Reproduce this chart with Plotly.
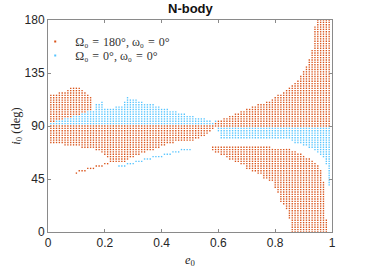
import plotly.graph_objects as go

ORANGE = "#D95319"
BLUE = "#55C4FF"

# ---- orange set: columns (i0 bounds in degrees)
o_left_e = [k / 100 for k in range(1, 59)]
o_left_lo = [76]*5 + [74]*6 + [72]*5 + [70, 70, 68, 66, 64] + [60]*6 + [
    62, 64, 64, 66, 66, 68, 68, 70, 70, 70, 72, 72, 74, 74, 76, 76, 76] + [78]*7 + [
    80, 80, 82, 82, 84, 86, 88]
o_left_hi = [116, 116, 116, 118, 118, 118, 120, 122, 122, 122, 122, 120, 118, 116, 114] + [90]*43

o_up_e = [k / 100 for k in range(59, 100)]
o_up_hi = [92, 94, 94, 96, 96, 98, 98, 100, 100, 102, 102, 104, 104, 106, 106, 108, 108, 108, 110, 110,
           112, 114, 116, 116, 118, 120, 122, 124, 126, 128, 132, 136, 140, 146, 154, 174,
           180, 180, 180, 180, 180]
o_up_lo = [90]*41

o_low_e = [k / 100 for k in range(58, 99)]
o_low_lo = [70, 68, 68, 66, 66, 64, 62, 62, 60, 60, 58, 58, 54, 54, 52, 52, 50, 50, 46, 46, 44, 44,
            38, 34, 26, 24, 20, 12] + [0]*13
o_low_hi = [72]*21 + [70]*7 + [68, 68, 66, 66, 64, 62, 62, 60, 58, 56, 52, 42, 10]

o_tail_e = [k / 100 for k in range(10, 22)]
o_tail_i = [50, 52, 52, 52, 54, 54, 54, 56, 56, 56, 58, 58]

# ---- blue set
b_up_e = [k / 100 for k in range(1, 60)]
b_up_hi = [92, 92, 94, 94, 94, 96, 96, 96, 98, 98, 98, 100, 100, 102, 102, 102, 108, 108, 110, 104,
           104, 104, 104, 106, 106, 106, 110, 114, 112, 112, 112, 110, 110, 108, 108, 108, 108, 106, 106, 104,
           104, 104, 102, 102, 102, 100, 100, 100, 98, 98, 98, 96, 96, 96, 96, 94, 94, 92, 94]
b_up_lo = [92]*58 + [94]

b_low_e = [k / 100 for k in range(60, 100)]
b_low_hi = [88]*40
b_low_lo = [86] + [80]*25 + [78, 76, 76, 76, 74, 74, 72, 72, 70, 68, 66, 64, 58, 40]

b_tail_e = [k / 100 for k in range(25, 51)]
b_tail_i = [56, 56, 56, 58, 58, 58, 60, 60, 60, 62, 62, 62, 64, 64, 64, 64, 66, 66, 66, 68, 68, 68, 70, 70, 70, 70]

x_ticks = [0, 0.2, 0.4, 0.6, 0.8, 1]
x_tick_text = ["0", "0.2", "0.4", "0.6", "0.8", "1"]
y_ticks = [0, 45, 90, 135, 180]


def expand(es, los, his):
    pts = []
    for e, lo, hi in zip(es, los, his):
        pts += [(e, i) for i in range(lo, hi + 1, 2)]
    return pts


blue = expand(b_up_e, b_up_lo, b_up_hi) + expand(b_low_e, b_low_lo, b_low_hi) + list(zip(b_tail_e, b_tail_i))
taken = set(blue)
orange = expand(o_left_e, o_left_lo, o_left_hi) + expand(o_up_e, o_up_lo, o_up_hi) + \
    expand(o_low_e, o_low_lo, o_low_hi) + list(zip(o_tail_e, o_tail_i))
orange = [p for p in orange if p not in taken]

fig = go.Figure()
fig.add_trace(go.Scatter(
    x=[p[0] for p in orange], y=[p[1] for p in orange], mode="markers", cliponaxis=False,
    name="Ω₀\u2004=\u2004180°, ω₀\u2004=\u20040°", legend="legend",
    marker=dict(symbol="square", size=1.35, color=ORANGE, line=dict(width=0))))
fig.add_trace(go.Scatter(
    x=[p[0] for p in blue], y=[p[1] for p in blue], mode="markers", cliponaxis=False,
    name="Ω₀\u2004=\u20040°, ω₀\u2004=\u20040°", legend="legend2",
    marker=dict(symbol="square", size=1.35, color=BLUE, line=dict(width=0))))

axis = dict(showgrid=False, zeroline=False, showline=True, linecolor="#8a8a8a", linewidth=1,
            mirror="allticks", ticks="inside", ticklen=3, tickcolor="#8a8a8a", tickwidth=1,
            tickfont=dict(family="Liberation Sans", size=12, color="#262626"))
legend_style = dict(x=-0.045, xanchor="left", yanchor="top", bgcolor="rgba(0,0,0,0)", borderwidth=0,
                    itemsizing="trace", itemwidth=30,
                    font=dict(family="Liberation Serif", size=12, color="#333333"))

fig.update_layout(
    width=366, height=275, autosize=False, paper_bgcolor="white", plot_bgcolor="white",
    margin=dict(l=48.4, r=33.6, t=19.5, b=42.6, autoexpand=False),
    title=dict(text="<b>N-body</b>", x=190.4 / 366, xanchor="center", y=1 - 8.5 / 275, yanchor="middle",
               font=dict(family="Liberation Sans", size=13, color="#111111")),
    xaxis=dict(axis, range=[0, 1], tickvals=x_ticks, ticktext=x_tick_text,
               title=dict(text="<i>e</i><sub>0</sub>", standoff=5,
                          font=dict(family="Liberation Serif", size=12.5, color="#262626"))),
    yaxis=dict(axis, range=[0, 180], tickvals=y_ticks,
               title=dict(text="<i>i</i><sub>0</sub> (deg)", standoff=1,
                          font=dict(family="Liberation Serif", size=12.5, color="#262626"))),
    legend=dict(legend_style, y=0.967),
    legend2=dict(legend_style, y=0.901),
    showlegend=True,
)
fig.write_html("out.html", post_script="document.body.style.margin='0';",
               config={"displayModeBar": False})
